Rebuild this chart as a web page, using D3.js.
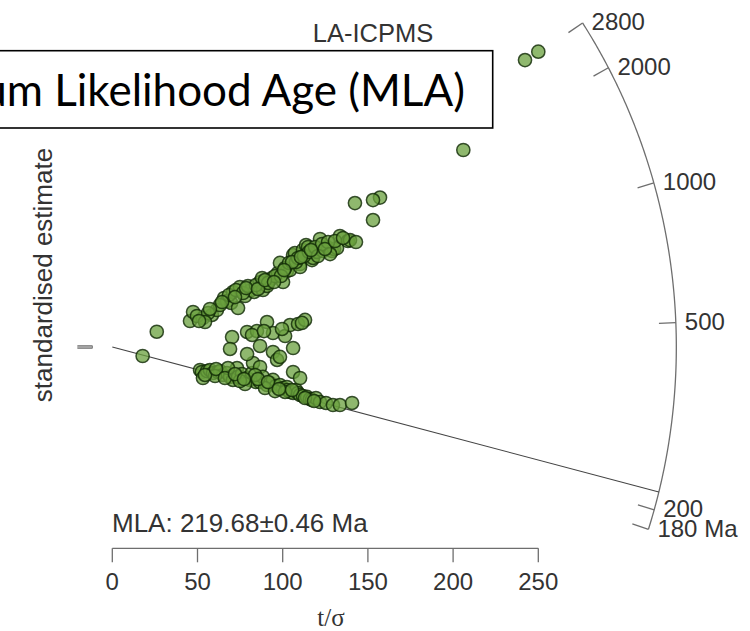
<!DOCTYPE html>
<html>
<head>
<meta charset="utf-8">
<script src="https://cdn.jsdelivr.net/npm/d3@7"></script>
<style>
  html, body { margin: 0; padding: 0; background: #fff; }
  svg { display: block; }
</style>
</head>
<body>
<svg id="chart" width="750" height="631"></svg>
<script>
// Radial plot of LA-ICPMS single-grain ages: x = t/σ, y = standardised estimate.
const mlaAge = 219.68;
const mlaErr = 0.46;
const refAge = 445.7;           // reference age of the horizontal (zero) direction
const xTicks = [0, 50, 100, 150, 200, 250];
const arcAges = [180, 200, 500, 1000, 2000, 2800];
const arcLabels = ["180 Ma", "200", "500", "1000", "2000", "2800"];
const yTicks = [-2, 0, 2];

// [t/σ, standardised estimate]
const outliers = [
  [250.0, 462.1], [242.2, 449.1], [206.0, 308.3], [157.1, 233.9], [153.0, 230.0],
  [142.4, 225.3], [153.0, 198.7], [26.1, 23.9], [17.8, -14.1]
];
const upperArm = [
  [45.6, 40.7], [47.4, 54.8], [53.2, 45.4], [58.5, 50.1], [61.4, 57.9], [65.6, 76.7],
  [67.3, 72.0], [69.7, 68.9], [70.8, 86.1], [73.8, 61.0], [74.9, 93.9], [77.9, 79.8],
  [81.4, 89.2], [83.2, 86.1], [86.7, 101.7], [88.4, 89.2], [90.8, 95.5], [92.6, 104.8],
  [93.7, 108.0], [97.2, 115.8], [98.4, 131.5], [100.2, 101.7], [102.5, 118.9], [104.3, 120.5],
  [106.1, 144.0], [107.2, 147.1], [110.2, 129.9], [110.2, 125.2], [111.9, 151.8], [113.7, 159.6],
  [114.9, 156.5], [117.2, 136.1], [117.8, 139.3], [120.1, 148.7], [121.9, 169.0], [123.7, 150.2],
  [126.0, 156.5], [128.9, 150.2], [130.1, 153.4], [131.9, 154.9], [133.6, 173.7], [138.3, 165.9],
  [139.5, 167.4], [143.0, 164.3], [49.7, 48.5], [56.2, 53.2], [63.2, 65.7], [68.5, 81.4],
  [72.6, 89.2], [76.7, 84.5], [79.6, 95.5], [84.3, 97.0], [87.9, 108.0], [91.4, 100.2],
  [95.5, 111.1], [101.4, 123.6], [103.7, 131.5], [107.8, 133.0], [109.0, 139.3], [112.5, 142.4],
  [115.4, 148.7], [119.0, 156.5], [123.1, 161.2], [126.6, 164.3], [127.8, 145.5], [120.7, 142.4],
  [54.4, 39.1], [50.9, 40.7], [57.3, 59.5], [64.4, 70.4], [72.0, 78.2], [78.5, 92.3],
  [85.5, 90.8], [89.6, 104.8], [99.0, 111.1], [105.5, 133.0], [110.7, 140.8], [116.6, 151.8],
  [124.8, 153.4], [130.7, 165.9], [135.4, 170.6], [100.8, 120.5], [94.9, 101.7]
];
const middle = [
  [70.3, 15.6], [69.1, -3.1], [79.1, 23.5], [79.1, -11.0], [86.7, 1.6], [84.9, 25.0],
  [90.8, 39.1], [94.3, -7.8], [96.7, -20.3], [94.3, 21.9], [101.4, 17.2], [106.1, -1.6],
  [104.3, 34.4], [109.0, 36.0], [113.1, 42.3], [111.3, 37.6], [98.4, -15.6], [82.0, 18.8],
  [89.0, 25.0], [99.6, 28.2]
];
const lowerArm = [
  [51.5, -36.0], [52.6, -39.1], [53.2, -48.5], [55.6, -37.6], [57.3, -36.0], [59.1, -40.7],
  [62.0, -39.1], [63.2, -37.6], [65.0, -43.8], [67.3, -40.7], [69.1, -46.9], [70.8, -51.6],
  [73.2, -32.9], [73.8, -46.9], [76.1, -42.3], [79.1, -48.5], [80.8, -51.6], [82.0, -40.7],
  [82.6, -25.0], [84.3, -54.8], [86.7, -31.3], [86.7, -54.8], [88.4, -46.9], [90.8, -59.5],
  [92.6, -56.3], [94.3, -51.6], [96.1, -61.0], [98.4, -59.5], [100.2, -64.2], [102.5, -62.6],
  [102.5, -67.3], [104.3, -70.4], [106.1, -39.1], [106.1, -72.0], [107.8, -67.3], [109.0, -72.0],
  [110.2, -48.5], [110.2, -75.1], [111.9, -76.7], [114.3, -78.2], [116.0, -81.4], [117.2, -82.9],
  [119.5, -79.8], [121.9, -86.1], [125.4, -87.6], [129.5, -90.8], [133.6, -90.8], [140.7, -87.6],
  [77.9, -57.9], [74.9, -53.2], [89.6, -64.2], [95.5, -68.9], [101.4, -70.4], [83.8, -43.8],
  [60.3, -45.4], [67.9, -32.9], [54.4, -43.8], [60.9, -34.4], [66.1, -48.5], [72.0, -42.3],
  [77.3, -50.1], [85.5, -50.1], [91.4, -54.8], [97.8, -65.7], [105.5, -67.3], [113.1, -79.8],
  [118.4, -84.5]
];

const svg = d3.select("#chart");
const font = "'Liberation Sans', Arial, Helvetica, sans-serif";
const ink = "#333";
const axisGrey = "#6e6e6e";

const x = d3.scaleLinear().domain([0, 250]).range([112.3, 538.3]);
const y = d3.scaleLinear().domain([-300, 500]).range([347 + 300 * 0.639, 347 - 500 * 0.639]);

// Arc radius in data units (horizontal in t/σ, vertical in standardised units)
const Rx = 331, Ry = 918.6;
function arcPoint(age, f = 1) {
  const s = Math.log(age / refAge);
  const px = f / Math.sqrt(1 / (Rx * Rx) + (s * s) / (Ry * Ry));
  return [px, s * px];
}

// x axis (t/σ)
const xAxis = svg.append("g").attr("transform", "translate(0,548.3)");
xAxis.append("line")
  .attr("x1", x(0)).attr("x2", x(250))
  .attr("stroke", axisGrey).attr("stroke-width", 1.3);
xAxis.selectAll("line.tick").data(xTicks).join("line")
  .attr("class", "tick")
  .attr("x1", d => x(d)).attr("x2", d => x(d))
  .attr("y1", 0).attr("y2", 14)
  .attr("stroke", axisGrey).attr("stroke-width", 1.3);
xAxis.selectAll("text").data(xTicks).join("text")
  .attr("x", d => x(d)).attr("y", 41.5)
  .attr("text-anchor", "middle")
  .attr("font-family", font).attr("font-size", 24).attr("fill", ink)
  .text(d => d);

svg.append("text")
  .attr("x", 331).attr("y", 626)
  .attr("text-anchor", "middle")
  .attr("font-family", "'Liberation Serif', 'Times New Roman', serif")
  .attr("font-size", 25).attr("fill", ink)
  .text("t/σ");

// y axis (standardised estimate) – short bar from -2 to 2
const yAxisX = x(-11.7);
svg.append("line")
  .attr("x1", yAxisX).attr("x2", yAxisX)
  .attr("y1", y(-2)).attr("y2", y(2))
  .attr("stroke", "#888").attr("stroke-width", 1.3);
svg.selectAll("line.ytick").data(yTicks).join("line")
  .attr("class", "ytick")
  .attr("x1", yAxisX - 15).attr("x2", yAxisX)
  .attr("y1", d => y(d)).attr("y2", d => y(d))
  .attr("stroke", "#888").attr("stroke-width", 1.3);

svg.append("text")
  .attr("transform", "translate(52,275) rotate(-90)")
  .attr("text-anchor", "middle")
  .attr("font-family", font).attr("font-size", 26).attr("fill", ink)
  .text("standardised estimate");

// Title
svg.append("text")
  .attr("x", 373).attr("y", 42)
  .attr("text-anchor", "middle")
  .attr("font-family", font).attr("font-size", 25.5).attr("fill", ink)
  .text("LA-ICPMS");

// Age arc
const arcSamples = d3.range(0, 201).map(i => {
  const a = Math.exp(Math.log(arcAges[0]) + (Math.log(arcAges[arcAges.length - 1]) - Math.log(arcAges[0])) * i / 200);
  return arcPoint(a);
});
svg.append("path")
  .attr("d", d3.line().x(d => x(d[0])).y(d => y(d[1]))(arcSamples))
  .attr("fill", "none").attr("stroke", axisGrey).attr("stroke-width", 1.3);

svg.selectAll("line.atick").data(arcAges).join("line")
  .attr("class", "atick")
  .attr("x1", d => x(arcPoint(d)[0])).attr("y1", d => y(arcPoint(d)[1]))
  .attr("x2", d => x(arcPoint(d, 0.97)[0])).attr("y2", d => y(arcPoint(d, 0.97)[1]))
  .attr("stroke", axisGrey).attr("stroke-width", 1.3);

svg.selectAll("text.alabel").data(arcAges).join("text")
  .attr("class", "alabel")
  .attr("x", d => x(arcPoint(d)[0]) + 9)
  .attr("y", d => y(arcPoint(d)[1]) + 7.5)
  .attr("font-family", font).attr("font-size", 24).attr("fill", ink)
  .text((d, i) => arcLabels[i]);

// Line of the maximum likelihood age
const mlaEnd = arcPoint(mlaAge);
svg.append("line")
  .attr("x1", x(0)).attr("y1", y(0))
  .attr("x2", x(mlaEnd[0])).attr("y2", y(mlaEnd[1]))
  .attr("stroke", "#444").attr("stroke-width", 1.1);

svg.append("text")
  .attr("x", 112).attr("y", 532)
  .attr("font-family", font).attr("font-size", 26).attr("fill", ink)
  .text(`MLA: ${mlaAge.toFixed(2)}±${mlaErr.toFixed(2)} Ma`);

// Grains
const allPoints = [...lowerArm, ...middle, ...upperArm, ...outliers];
svg.append("g").selectAll("circle").data(allPoints).join("circle")
  .attr("cx", d => x(d[0])).attr("cy", d => y(d[1]))
  .attr("r", 6.6)
  .attr("fill", "rgba(105,160,62,0.75)")
  .attr("stroke", "rgba(15,40,5,0.8)")
  .attr("stroke-width", 1.5);

// Caption box
svg.append("rect")
  .attr("x", -5).attr("y", 50.7).attr("width", 497.7).attr("height", 77.3)
  .attr("fill", "#fff").attr("stroke", "#000").attr("stroke-width", 1.6);
svg.append("text")
  .attr("x", 465).attr("y", 106)
  .attr("text-anchor", "end")
  .attr("font-family", "Lato, 'Open Sans', sans-serif")
  .attr("font-size", 44).attr("fill", "#000")
  .text("Maximum Likelihood Age (MLA)");
</script>
</body>
</html>
